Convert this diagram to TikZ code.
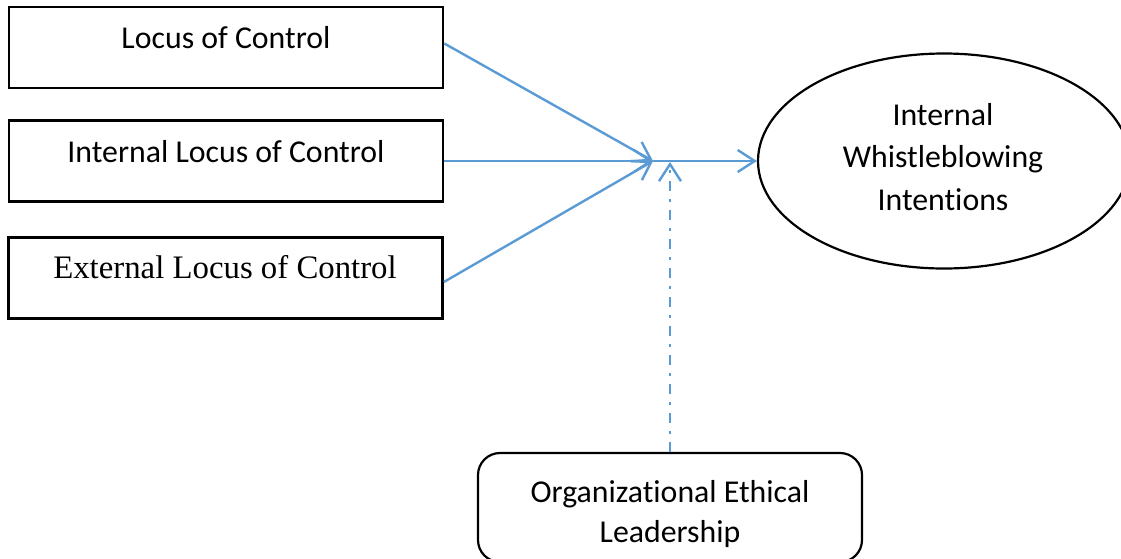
\documentclass[tikz,border=0pt]{standalone}
\usepackage{fontspec}
\setmainfont{Carlito}[Ligatures=NoCommon]
\newfontfamily\serifface{Liberation Serif}
\usetikzlibrary{arrows.meta,shapes.geometric}
\definecolor{lineblue}{HTML}{5B9BD5}
\begin{document}
\begin{tikzpicture}[x=1pt,y=-1pt,
  box/.style={draw=black, line width=2.7pt, rectangle, minimum width=434pt, minimum height=81pt, inner sep=0pt},
  lbl/.style={font=\fontsize{31.8}{42.5}\selectfont, anchor=base, inner sep=0pt},
  conn/.style={draw=lineblue, line width=2.4pt, -{Straight Barb[length=17pt,width=22pt]}}]
\useasboundingbox (0,0) rectangle (1121,558);
\clip (0,0) rectangle (1121,558);
% boxes
\node[box] (b1) at (226,47.5) {};
\node[box] (b2) at (226,161) {};
\node[box] (b3) at (225.5,278) {};
\node[lbl] (t1) at (226,48) {Locus of Control};
\node[lbl] (t2) at (226,162) {Internal Locus of Control};
\node[lbl, font=\serifface\fontsize{32.8}{40}\selectfont] (t3) at (225,278) {External Locus of Control};
% ellipse
\node[draw=black, line width=2.2pt, ellipse, minimum width=372pt, minimum height=215pt, inner sep=0pt] (e) at (944,161) {};
\node[lbl, align=center] (et) at (943,210) {Internal\\Whistleblowing\\Intentions};
% bottom box
\node[draw=black, line width=2.2pt, rounded corners=22pt, minimum width=384pt, minimum height=109pt, inner sep=0pt] (ob) at (670,507.5) {};
\node[lbl, align=center, font=\fontsize{31.8}{40}\selectfont] (obt) at (670,542) {Organizational Ethical\\Leadership};
% connectors
\coordinate (m) at (653,161);
\coordinate (j) at (670,162);
\draw[conn] ([yshift=4pt]b1.east) -- (m);
\draw[conn] (b2.east) -- (m);
\draw[conn] ([yshift=-4pt]b3.east) -- (m);
\draw[conn] (m) -- (m -| e.west);
\draw[conn, dash pattern=on 10pt off 8pt on 3pt off 8pt] (ob.north) -- (j);
\end{tikzpicture}
\end{document}
